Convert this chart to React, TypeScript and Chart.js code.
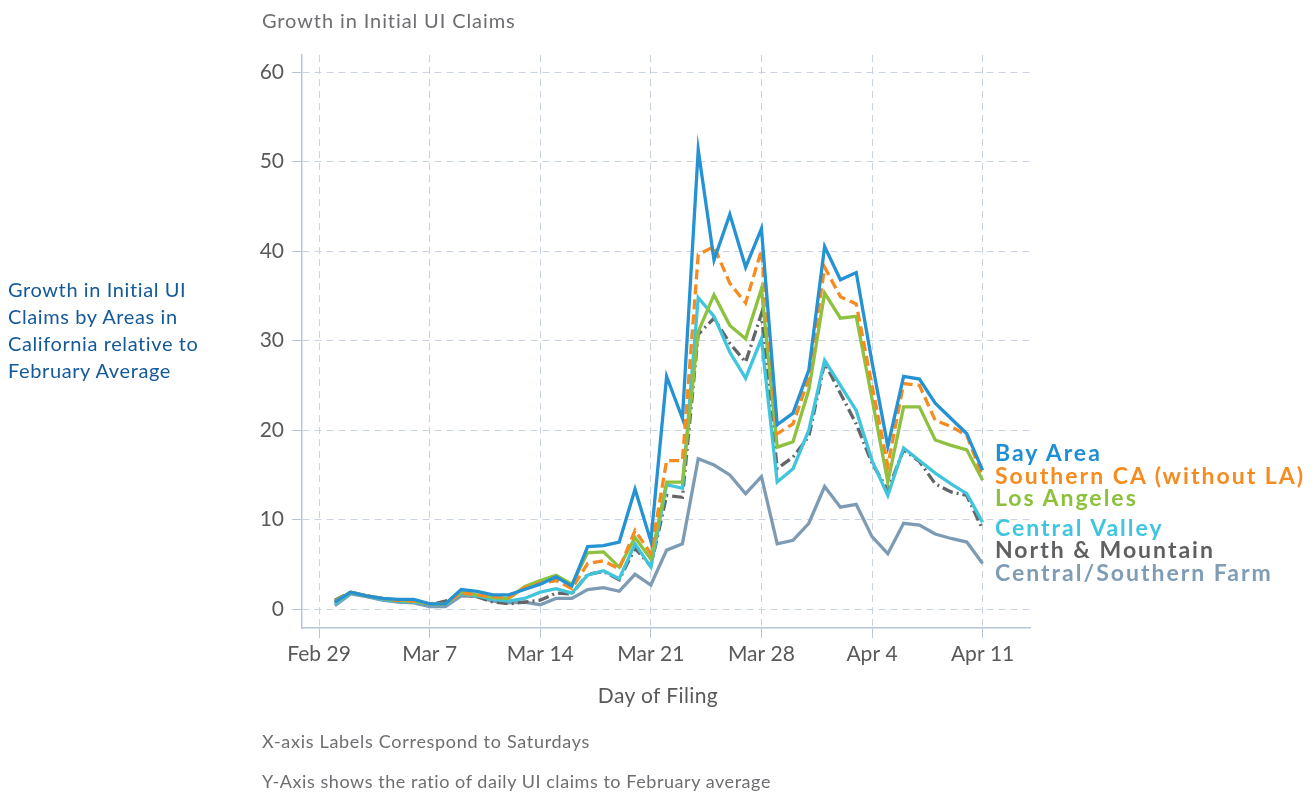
import React, { useEffect, useRef } from "react";
import { Chart, registerables } from "chart.js";

Chart.register(...registerables);

// x positions: day number counted from Feb 29 (Feb 29 = 0)
const dayNumbers = [
  1, 2, 3, 4, 5, 6, 7, 8, 9, 10, 11, 12, 13, 14, 15, 16, 17, 18, 19, 20, 21,
  22, 23, 24, 25, 26, 27, 28, 29, 30, 31, 32, 33, 34, 35, 36, 37, 38, 39, 40, 41, 42,
];
const tickDays = [0, 7, 14, 21, 28, 35, 42];
const tickLabels = ["Feb 29", "Mar 7", "Mar 14", "Mar 21", "Mar 28", "Apr 4", "Apr 11"];
const yTicks = [0, 10, 20, 30, 40, 50, 60];

const bayArea = [
  0.8, 1.9, 1.5, 1.2, 1.1, 1.1, 0.6, 0.6, 2.2, 2.0, 1.6, 1.6, 2.2, 2.8, 3.6, 2.6, 7.0, 7.1, 7.5, 13.4, 7.6,
  26.0, 21.3, 51.3, 39.0, 44.1, 38.2, 42.5, 20.6, 21.9, 26.7, 40.5, 36.8, 37.6, 27.6, 18.2, 26.0, 25.7, 23.0, 21.3, 19.6, 15.5,
];
const southernCA = [
  0.8, 1.9, 1.5, 1.2, 1.0, 0.9, 0.6, 0.6, 1.8, 1.6, 1.4, 1.3, 2.4, 2.9, 3.2, 2.3, 5.1, 5.4, 4.5, 8.8, 6.2,
  16.6, 16.6, 39.6, 40.5, 36.4, 34.2, 40.1, 19.6, 20.7, 25.8, 38.2, 34.9, 34.1, 25.0, 16.0, 25.2, 25.0, 21.1, 20.4, 19.4, 14.8,
];
const losAngeles = [
  0.9, 1.9, 1.5, 1.2, 1.0, 0.9, 0.6, 0.6, 1.9, 1.6, 1.3, 1.2, 2.5, 3.2, 3.8, 2.8, 6.3, 6.4, 4.7, 8.0, 5.6,
  14.2, 14.2, 31.0, 35.1, 31.7, 30.2, 35.8, 18.1, 18.7, 24.5, 35.3, 32.5, 32.7, 23.5, 14.2, 22.6, 22.6, 18.9, 18.3, 17.8, 14.4,
];
const centralValley = [
  0.6, 1.8, 1.5, 1.1, 0.9, 0.8, 0.5, 0.5, 1.7, 1.5, 1.1, 0.9, 1.2, 1.9, 2.3, 1.8, 3.8, 4.3, 3.4, 7.3, 4.7,
  13.9, 13.5, 34.8, 32.7, 28.7, 25.8, 30.2, 14.2, 15.7, 20.0, 27.8, 25.0, 22.2, 16.6, 12.7, 18.0, 16.6, 15.2, 14.0, 12.9, 9.7,
];
const northMountain = [
  1.0, 1.9, 1.5, 1.2, 0.9, 0.8, 0.5, 0.9, 1.7, 1.4, 0.8, 0.6, 0.8, 1.0, 1.8, 1.7, 3.9, 4.2, 3.3, 6.8, 4.8,
  12.7, 12.5, 30.7, 32.5, 29.7, 27.6, 33.0, 15.7, 17.0, 19.3, 27.5, 24.1, 20.7, 16.3, 13.3, 17.8, 16.5, 14.0, 13.1, 12.7, 8.9,
];
const centralSouthernFarm = [
  0.4, 1.7, 1.4, 1.0, 0.8, 0.7, 0.3, 0.3, 1.5, 1.4, 0.9, 0.7, 0.8, 0.5, 1.2, 1.2, 2.2, 2.4, 2.0, 3.9, 2.7,
  6.6, 7.3, 16.8, 16.1, 15.0, 12.9, 14.8, 7.3, 7.7, 9.6, 13.7, 11.4, 11.7, 8.1, 6.2, 9.6, 9.4, 8.4, 7.9, 7.5, 5.1,
];

const seriesNames = [
  "Bay Area",
  "Southern CA (without LA)",
  "Los Angeles",
  "Central Valley",
  "North & Mountain",
  "Central/Southern Farm",
];
const seriesValues = [bayArea, southernCA, losAngeles, centralValley, northMountain, centralSouthernFarm];
const lineColors = ["#2492d3", "#f68b1f", "#8dc13f", "#40c5dc", "#646567", "#7e9bb4"];
const labelColors = ["#1f8fd5", "#f68b1f", "#8cc13c", "#3fc6de", "#5f6062", "#7f9cb5"];
const lineDashes: number[][] = [[], [10, 5], [], [], [11, 4, 2, 4], []];

const FONT = "Lato, 'Open Sans', sans-serif";

export default function App() {
  const canvasRef = useRef<HTMLCanvasElement | null>(null);

  useEffect(() => {
    const canvas = canvasRef.current;
    if (!canvas) return;
    const datasets = seriesNames.map((name, i) => ({
      label: name,
      data: dayNumbers.map((d, j) => ({ x: d, y: seriesValues[i][j] })),
      borderColor: lineColors[i],
      backgroundColor: lineColors[i],
      borderWidth: 3.3,
      borderDash: lineDashes[i],
      pointRadius: 0,
      tension: 0,
      fill: false,
    }));
    const chart = new Chart(canvas, {
      type: "line",
      data: { datasets },
      options: {
        animation: false,
        responsive: false,
        devicePixelRatio: 1,
        layout: { padding: { top: 55, right: 282, left: 0, bottom: 0 } },
        plugins: { legend: { display: false }, tooltip: { enabled: false } },
        scales: {
          x: {
            type: "linear",
            min: -1.08,
            max: 45,
            afterBuildTicks: (scale: any) => {
              scale.ticks = tickDays.map((v) => ({ value: v }));
            },
            afterFit: (scale: any) => {
              scale.height = 166;
            },
            ticks: {
              autoSkip: false,
              maxRotation: 0,
              padding: 4,
              color: "#58595b",
              font: { family: FONT, size: 21 },
              callback: (v: any) => {
                const k = tickDays.indexOf(Number(v));
                return k >= 0 ? tickLabels[k] : "";
              },
            },
            grid: {
              color: "#c9d3e3",
              lineWidth: 1,
              tickLength: 10,
              tickColor: "#b7c5d9",
              tickBorderDash: [],
            },
            border: { display: true, color: "#b7c5d9", width: 1.5, dash: [7, 5] },
          },
          y: {
            type: "linear",
            min: -2.1,
            max: 61.9,
            afterBuildTicks: (scale: any) => {
              scale.ticks = yTicks.map((v) => ({ value: v }));
            },
            afterFit: (scale: any) => {
              scale.width = 302;
            },
            ticks: {
              padding: 8,
              color: "#58595b",
              font: { family: FONT, size: 21 },
              callback: (v: any) => String(v),
            },
            grid: {
              color: "#c9d3e3",
              lineWidth: 1,
              tickLength: 10,
              tickColor: "#b7c5d9",
              tickBorderDash: [],
            },
            border: { display: true, color: "#b7c5d9", width: 1.5, dash: [7, 5] },
          },
        },
      },
    } as any);
    return () => chart.destroy();
  }, []);

  const labelTops = [439, 462, 484, 514, 536, 559];

  return (
    <div
      style={{
        position: "absolute",
        left: 0,
        top: 0,
        width: 1312,
        height: 794,
        background: "#ffffff",
        fontFamily: FONT,
        overflow: "hidden",
      }}
    >
      <canvas ref={canvasRef} width={1312} height={794} style={{ position: "absolute", left: 0, top: 0, width: 1312, height: 794 }} />
      <div style={{ position: "absolute", left: 262, top: 8, fontSize: 20, letterSpacing: 0.9, lineHeight: "24px", color: "#6d6e71", whiteSpace: "nowrap" }}>
        Growth in Initial UI Claims
      </div>
      <div style={{ position: "absolute", left: 8, top: 276, fontSize: 20, letterSpacing: 0.6, lineHeight: "27px", color: "#14599a", width: 240 }}>
        Growth in Initial UI
        <br />
        Claims by Areas in
        <br />
        California relative to
        <br />
        February Average
      </div>
      <div style={{ position: "absolute", left: 508, width: 300, textAlign: "center", top: 682, fontSize: 21, letterSpacing: 0.4, lineHeight: "26px", color: "#58595b" }}>
        Day of Filing
      </div>
      <div style={{ position: "absolute", left: 262, top: 730, fontSize: 18, letterSpacing: 0.7, lineHeight: "22px", color: "#6d6e71", whiteSpace: "nowrap" }}>
        X-axis Labels Correspond to Saturdays
      </div>
      <div style={{ position: "absolute", left: 262, top: 770, fontSize: 18, letterSpacing: 0.55, lineHeight: "22px", color: "#6d6e71", whiteSpace: "nowrap" }}>
        Y-Axis shows the ratio of daily UI claims to February average
      </div>
      {seriesNames.map((name, i) => (
        <div
          key={name}
          style={{
            position: "absolute",
            left: 995,
            top: labelTops[i],
            fontSize: 23,
            letterSpacing: 2,
            lineHeight: "26px",
            fontWeight: 700,
            color: labelColors[i],
            whiteSpace: "nowrap",
          }}
        >
          {name}
        </div>
      ))}
    </div>
  );
}
